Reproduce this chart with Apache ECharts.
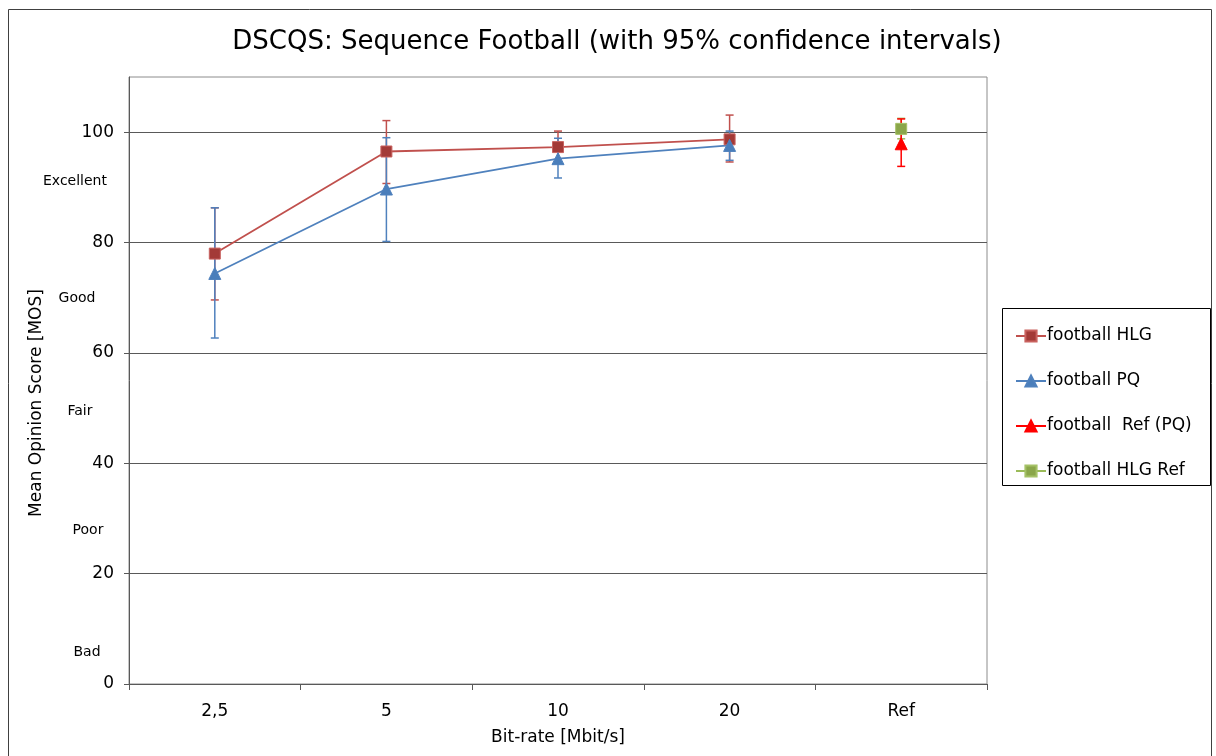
<!DOCTYPE html>
<html>
<head>
<meta charset="utf-8">
<script src="https://cdn.jsdelivr.net/npm/echarts@6/dist/echarts.min.js"></script>
<style>
html,body{margin:0;padding:0;background:#fff;}
#c{width:1216px;height:756px;}
</style>
</head>
<body>
<div id="c"></div>
<script>
// ---- data ----
var categories = ['2,5', '5', '10', '20', 'Ref'];
var hlgMean = [78.0, 96.5, 97.3, 98.7, null];
var hlgLow  = [69.6, 90.7, 94.4, 94.6, null];
var hlgHigh = [86.3, 102.1, 100.2, 103.1, null];
var pqMean  = [74.4, 89.7, 95.2, 97.6, null];
var pqLow   = [62.7, 80.2, 91.7, 94.9, null];
var pqHigh  = [86.3, 99.0, 98.9, 100.2, null];
var refPqMean = [null, null, null, null, 97.9];
var refPqLow  = [null, null, null, null, 93.8];
var refPqHigh = [null, null, null, null, 102.4];
var refHlgMean = [null, null, null, null, 100.6];
var refHlgLow  = [null, null, null, null, 98.8];
var refHlgHigh = [null, null, null, null, 102.5];
var yTicks = [0, 20, 40, 60, 80, 100];
var qualityLabels = ['Excellent', 'Good', 'Fair', 'Poor', 'Bad'];
var qualityLevels = [91.1, 69.8, 49.4, 27.9, 5.8];

// ---- layout ----
var qualityX = [75, 77, 80, 88, 87];
var FONT = 'DejaVu Sans, Verdana, sans-serif';

function ciData(lo, hi) {
  var out = [];
  for (var i = 0; i < lo.length; i++) {
    if (lo[i] != null) out.push([i, lo[i], hi[i]]);
  }
  return out;
}
function ciSeries(name, lo, hi, color, z) {
  return {
    type: 'custom',
    name: name,
    z: z,
    silent: true,
    data: ciData(lo, hi),
    renderItem: function (params, api) {
      var x = api.value(0);
      var pLo = api.coord([x, api.value(1)]);
      var pHi = api.coord([x, api.value(2)]);
      var h = 4;
      var st = { stroke: color, lineWidth: 1.5 };
      return {
        type: 'group',
        children: [
          { type: 'line', shape: { x1: pLo[0], y1: pLo[1], x2: pHi[0], y2: pHi[1] }, style: st },
          { type: 'line', shape: { x1: pLo[0] - h, y1: pLo[1], x2: pLo[0] + h, y2: pLo[1] }, style: st },
          { type: 'line', shape: { x1: pHi[0] - h, y1: pHi[1], x2: pHi[0] + h, y2: pHi[1] }, style: st }
        ]
      };
    }
  };
}

var chart = echarts.init(document.getElementById('c'), null, { renderer: 'canvas' });

var option = {
  backgroundColor: '#fff',
  animation: false,
  textStyle: { fontFamily: FONT },
  title: {
    text: 'DSCQS: Sequence Football (with 95% confidence intervals)',
    left: 612, top: 24, textAlign: 'center',
    textStyle: { fontFamily: FONT, fontSize: 26, fontWeight: 'normal', color: '#000' }
  },
  grid: {
    left: 129, right: 229, top: 77, bottom: 72,
    show: true, borderColor: '#8c8c8c', borderWidth: 1, backgroundColor: 'transparent'
  },
  legend: {
    orient: 'vertical',
    left: 1010, top: 321,
    itemWidth: 30, itemHeight: 14, itemGap: 25,
    data: ['football HLG', 'football PQ', 'football  Ref (PQ)', 'football HLG Ref'],
    textStyle: { fontFamily: FONT, fontSize: 17, color: '#000', lineHeight: 20, padding: [0, 0, 0, -4] }
  },
  xAxis: {
    type: 'category',
    data: categories,
    boundaryGap: true,
    axisLine: { lineStyle: { color: '#595959', width: 1 } },
    axisTick: { show: true, length: 6, lineStyle: { color: '#595959' } },
    axisLabel: { margin: 19, fontSize: 17, fontFamily: FONT, color: '#000' },
    splitLine: { show: false }
  },
  yAxis: {
    type: 'value',
    min: 0, max: 110, interval: 20,
    axisLine: { show: true, lineStyle: { color: '#595959', width: 1 } },
    axisTick: { show: true, length: 5, lineStyle: { color: '#595959' }, customValues: yTicks },
    axisLabel: { margin: 15, fontSize: 17, fontFamily: FONT, color: '#000', customValues: yTicks },
    splitLine: { show: true, lineStyle: { color: '#595959', width: 1 } }
  },
  series: [
    ciSeries('ci hlg ref', refHlgLow, refHlgHigh, '#9BBB59', 1),
    ciSeries('ci ref pq', refPqLow, refPqHigh, '#FF0000', 1),
    ciSeries('ci hlg', hlgLow, hlgHigh, '#C0504D', 1),
    ciSeries('ci pq', pqLow, pqHigh, '#4F81BD', 1),
    {
      name: 'football HLG', type: 'line', data: hlgMean, z: 3,
      symbol: 'rect', symbolSize: 11,
      lineStyle: { color: '#C0504D', width: 1.8 },
      itemStyle: { color: '#A33A37', borderColor: '#C9625F', borderWidth: 1 }
    },
    {
      name: 'football PQ', type: 'line', data: pqMean, z: 3,
      symbol: 'triangle', symbolSize: 12,
      lineStyle: { color: '#4F81BD', width: 1.8 },
      itemStyle: { color: '#4A7EBB', borderColor: '#4F81BD', borderWidth: 1 }
    },
    {
      name: 'football  Ref (PQ)', type: 'line', data: refPqMean, z: 3,
      symbol: 'triangle', symbolSize: 12,
      lineStyle: { color: '#FF0000', width: 1.8 },
      itemStyle: { color: '#FF0000', borderColor: '#FF0000', borderWidth: 1 }
    },
    {
      name: 'football HLG Ref', type: 'line', data: refHlgMean, z: 3,
      symbol: 'rect', symbolSize: 11,
      lineStyle: { color: '#9BBB59', width: 1.8 },
      itemStyle: { color: '#8AA64A', borderColor: '#A5C267', borderWidth: 1 }
    }
  ]
};
chart.setOption(option);

var graphics = [
  { type: 'rect', silent: true, z: 0, shape: { x: 8.5, y: 9.5, width: 1203, height: 770 },
    style: { fill: 'none', stroke: '#404040', lineWidth: 1 } },
  { type: 'rect', silent: true, z: 0, shape: { x: 1002.5, y: 308.5, width: 208, height: 177 },
    style: { fill: 'none', stroke: '#000', lineWidth: 1 } },
  { type: 'text', silent: true, x: 37, y: 403, rotation: Math.PI / 2,
    style: { text: 'Mean Opinion Score [MOS]', fontFamily: FONT, fontSize: 17, fill: '#000',
      textAlign: 'center', textVerticalAlign: 'middle' } },
  { type: 'text', silent: true, x: 558, y: 738,
    style: { text: 'Bit-rate [Mbit/s]', fontFamily: FONT, fontSize: 17, fill: '#000',
      textAlign: 'center', textVerticalAlign: 'middle' } }
];
for (var i = 0; i < qualityLabels.length; i++) {
  var py = chart.convertToPixel({ yAxisIndex: 0 }, qualityLevels[i]);
  graphics.push({ type: 'text', silent: true, x: qualityX[i], y: py,
    style: { text: qualityLabels[i], fontFamily: FONT, fontSize: 14, fill: '#000',
      textAlign: 'center', textVerticalAlign: 'middle' } });
}
chart.setOption({ graphic: graphics });
</script>
</body>
</html>
